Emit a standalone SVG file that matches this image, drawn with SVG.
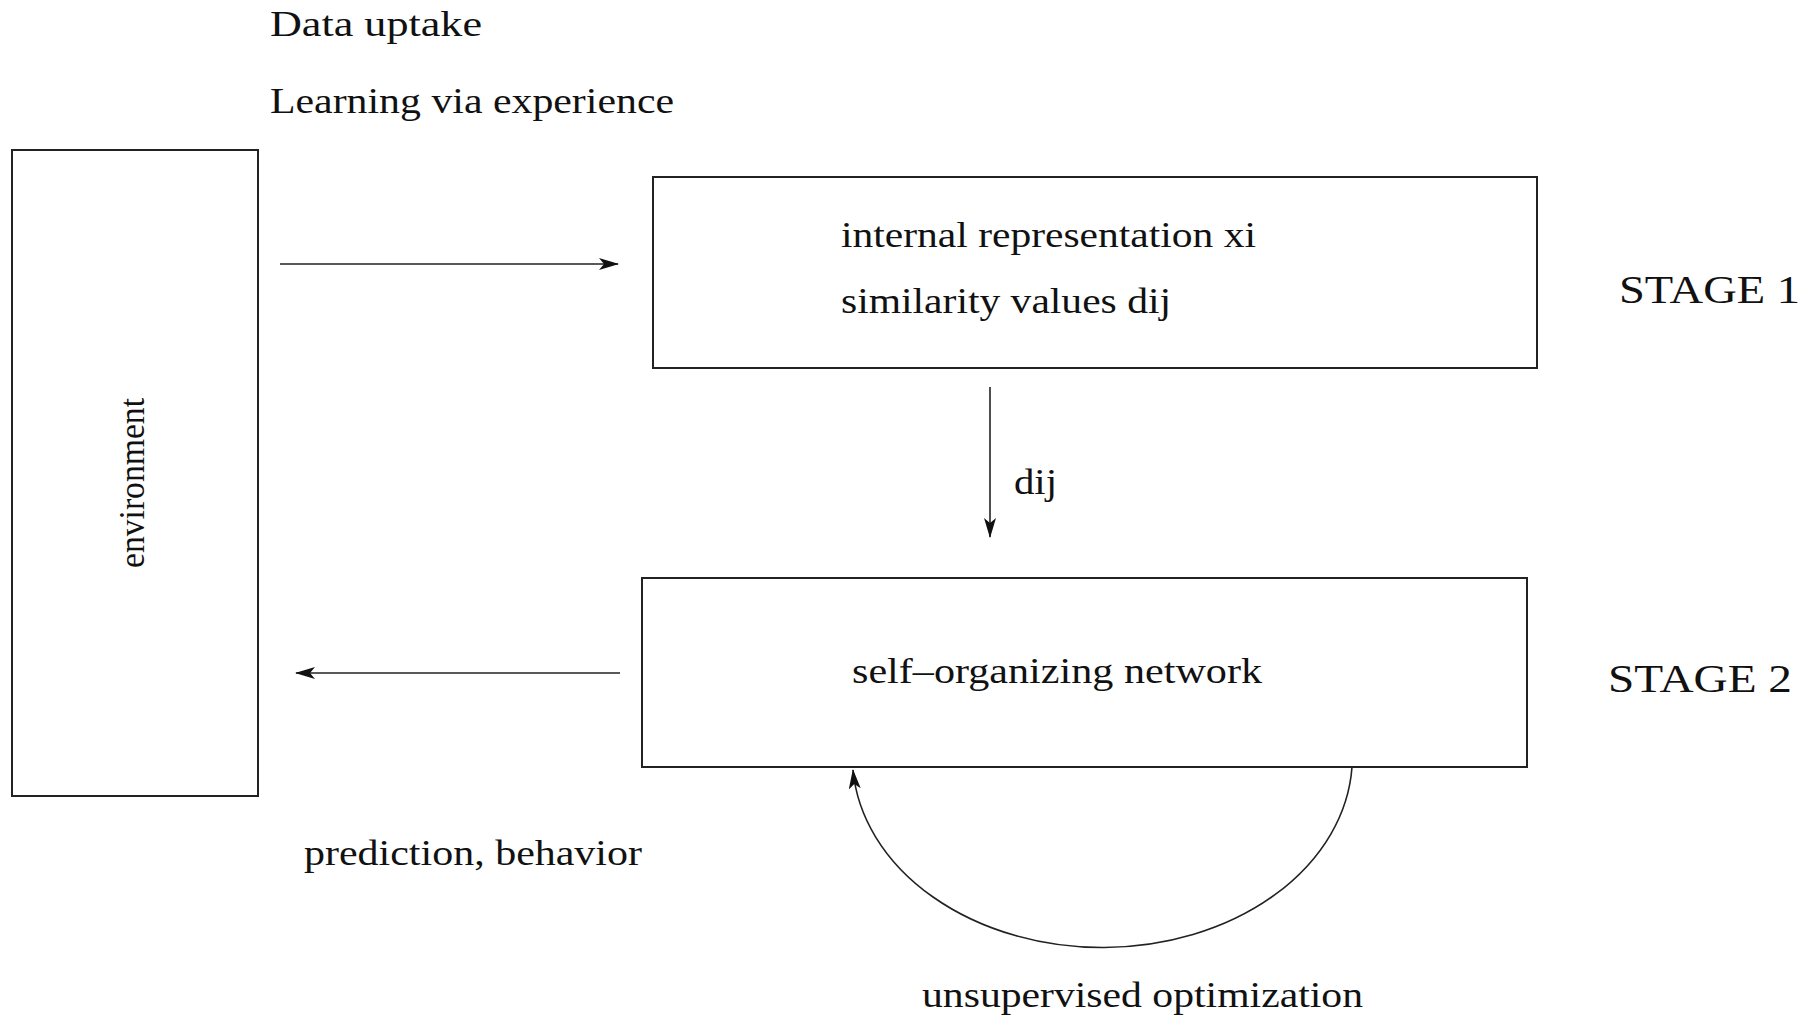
<svg xmlns="http://www.w3.org/2000/svg" width="1807" height="1017" viewBox="0 0 1807 1017">
<style>
  .box { fill: #fff; stroke: #222; stroke-width: 2; }
  .t { font-family: "Liberation Serif", "Times New Roman", serif; font-size: 35px; fill: #111; }
  .big { font-size: 41px; }
  .conn { fill: none; stroke: #222; stroke-width: 1.6; }
</style>
<defs>
  <marker id="ah" viewBox="0 0 20 14" refX="19" refY="7" markerWidth="20" markerHeight="14" markerUnits="userSpaceOnUse" orient="auto">
    <path d="M0,1 L20,7 L0,13 L5,7 Z" fill="#111"/>
  </marker>
</defs>
<rect width="1807" height="1017" fill="#fff"/>

<text class="t" x="270" y="36" textLength="212" lengthAdjust="spacingAndGlyphs">Data uptake</text>
<text class="t" x="270" y="113" textLength="404" lengthAdjust="spacingAndGlyphs">Learning via experience</text>

<g id="environment">
  <rect class="box" x="12" y="150" width="246" height="646"/>
  <text class="t" transform="translate(144,483) rotate(-90)" text-anchor="middle" textLength="170" lengthAdjust="spacingAndGlyphs">environment</text>
</g>

<g id="stage1">
  <rect class="box" x="653" y="177" width="884" height="191"/>
  <text class="t" x="841" y="247" textLength="415" lengthAdjust="spacingAndGlyphs">internal representation xi</text>
  <text class="t" x="841" y="313" textLength="330" lengthAdjust="spacingAndGlyphs">similarity values dij</text>
</g>
<text class="t big" x="1619" y="303" textLength="181" lengthAdjust="spacingAndGlyphs">STAGE 1</text>

<g id="stage2">
  <rect class="box" x="642" y="578" width="885" height="189"/>
  <text class="t" x="852" y="683" textLength="410" lengthAdjust="spacingAndGlyphs">self–organizing network</text>
</g>
<text class="t big" x="1608" y="692" textLength="184" lengthAdjust="spacingAndGlyphs">STAGE 2</text>

<g id="connectors">
  <line class="conn" x1="280" y1="264" x2="618" y2="264" marker-end="url(#ah)"/>
  <line class="conn" x1="990" y1="387" x2="990" y2="537" marker-end="url(#ah)"/>
  <text class="t" x="1014" y="494" textLength="43" lengthAdjust="spacingAndGlyphs">dij</text>
  <line class="conn" x1="620" y1="673" x2="296" y2="673" marker-end="url(#ah)"/>
  <text class="t" x="304" y="865" textLength="338" lengthAdjust="spacingAndGlyphs">prediction, behavior</text>
  <path class="conn" d="M1352,767 A250,191 0 0 1 853,770" marker-end="url(#ah)"/>
  <text class="t" x="922" y="1007" textLength="441" lengthAdjust="spacingAndGlyphs">unsupervised optimization</text>
</g>
</svg>
